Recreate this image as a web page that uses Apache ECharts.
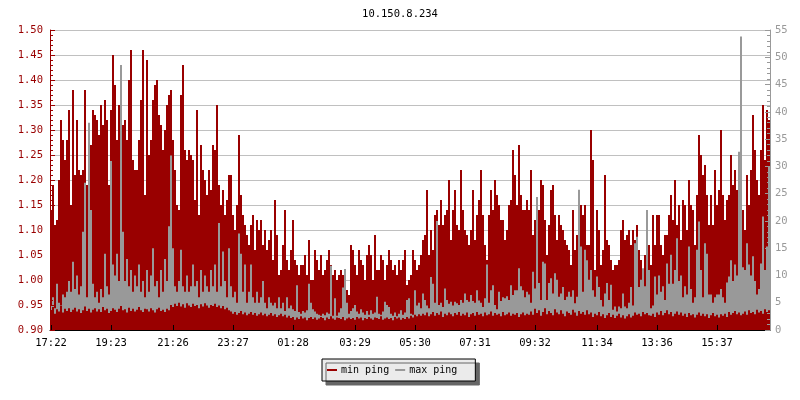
<!DOCTYPE html>
<html><head><meta charset="utf-8">
<script src="https://cdn.jsdelivr.net/npm/echarts@6/dist/echarts.min.js"></script>
<style>html,body{margin:0;padding:0;background:#fff}#c{width:800px;height:400px}</style>
</head><body><div id="c"></div>
<script>
const chartTitle = '10.150.8.234';
const tickLabels = ['17:22','19:23','21:26','23:27','01:28','03:29','05:30','07:31','09:32','11:34','13:36','15:37'];
const tickIndex = [0,30,61,91,121,152,182,212,242,273,303,333];

// min ping (left axis), one value per 2 px column
const minPing = [
1.14,1.19,1.11,1.12,1.20,1.32,1.28,1.24,1.28,1.34,1.15,1.38,1.21,1.32,1.22,1.21,1.22,1.38,1.19,1.25,
1.27,1.34,1.33,1.32,1.29,1.35,1.31,1.36,1.32,1.19,1.34,1.45,1.39,1.28,1.35,1.43,1.31,1.32,1.28,1.40,
1.46,1.24,1.22,1.22,1.28,1.36,1.46,1.17,1.44,1.25,1.28,1.36,1.39,1.40,1.33,1.31,1.26,1.30,1.35,1.37,
1.38,1.28,1.22,1.15,1.14,1.37,1.43,1.26,1.24,1.26,1.25,1.24,1.16,1.34,1.13,1.27,1.22,1.20,1.17,1.22,
1.18,1.27,1.26,1.35,1.19,1.15,1.18,1.13,1.16,1.21,1.21,1.13,1.10,1.15,1.29,1.17,1.13,1.11,1.09,1.07,
1.11,1.13,1.06,1.12,1.10,1.12,1.07,1.10,1.06,1.08,1.10,1.04,1.16,1.09,1.01,1.02,1.07,1.14,1.04,1.02,
1.06,1.12,1.04,1.03,1.01,1.03,1.03,1.05,1.01,1.08,1.00,1.00,1.06,1.04,1.02,1.05,1.01,1.02,1.04,1.06,
1.03,1.01,1.02,1.00,1.01,1.02,1.01,1.02,0.98,0.97,1.07,1.06,1.03,1.01,1.06,1.04,1.03,1.00,1.05,1.07,
1.05,1.00,1.09,1.02,1.02,1.05,1.04,1.00,1.03,1.06,1.04,1.02,1.03,1.01,1.04,1.02,1.04,1.06,0.99,1.00,
1.01,1.06,1.04,1.02,1.03,1.05,1.08,1.09,1.18,1.05,1.10,1.06,1.13,1.14,1.11,1.16,1.11,1.13,1.14,1.20,
1.08,1.14,1.18,1.11,1.10,1.22,1.14,1.10,1.09,1.07,1.10,1.18,1.08,1.13,1.16,1.22,1.13,1.07,1.04,1.13,
1.18,1.14,1.20,1.17,1.15,1.12,1.12,1.08,1.10,1.15,1.16,1.26,1.21,1.15,1.27,1.17,1.14,1.14,1.16,1.14,
1.22,1.09,1.12,1.16,1.14,1.20,1.19,1.12,1.05,1.11,1.18,1.19,1.13,1.08,1.13,1.11,1.10,1.08,1.07,1.06,
1.03,1.14,1.06,1.09,1.18,1.15,1.13,1.15,1.07,1.07,1.30,1.24,1.02,1.14,1.10,1.03,1.06,1.21,1.08,1.07,
1.04,1.02,1.03,1.03,1.04,1.10,1.12,1.08,1.09,1.10,1.07,1.10,1.08,1.11,1.06,1.04,1.02,1.05,1.04,1.07,
1.03,1.13,1.07,1.13,1.13,1.07,1.05,1.09,1.09,1.13,1.17,1.12,1.20,1.11,1.15,1.08,1.16,1.15,1.10,1.20,
1.15,1.14,1.07,1.17,1.29,1.25,1.21,1.23,1.17,1.11,1.17,1.11,1.22,1.15,1.18,1.30,1.17,1.12,1.16,1.17,
1.25,1.19,1.22,1.18,1.20,1.26,1.14,1.10,1.21,1.15,1.22,1.33,1.26,1.20,1.17,1.26,1.35,1.24,1.34,1.32
];

// max ping (right axis)
const maxPing = [
4.5,6,4,8.5,5,4.5,6.5,6,7,9,7,12.5,7.5,10,6.5,8,18,27,6,38,
22,8.5,6,7,5,7.5,6,14,8,6.5,31,12,10,14,9,48.6,18,9,13,8,
11,7,10,8,12,7,9,6,11,7,10,15,8,9,6,11,7,13,9,19,
32,15,8,7,9,14.7,8,7,10,7,8,12,8,9,6,11,7,10,8,7,
11,8,12,7,19.6,8,14.4,9,6,15,8,6,7,5,17.7,14,7,12,5,7,
12,6,5,7,5,6,9,5,4,6,5,4.5,5,4,6,4,5,3.5,6,4,
4.5,3.8,3.5,8.2,3.3,3.0,3.5,3.2,3.6,8.5,5.0,3.8,3.4,3.0,2.8,2.6,3.0,2.7,3.2,3.0,
11.8,2.6,5.8,2.6,3.2,4.0,7.8,11.2,5.0,3.0,3.5,4.0,4.6,3.4,3.0,3.8,3.2,2.8,3.5,2.8,
3.6,3.0,3.2,6.1,3.0,2.8,3.4,5.2,4.6,4.2,3.0,2.6,3.2,2.5,3.0,3.6,2.8,3.2,5.5,5.8,
3.0,2.8,7.3,4.5,5.0,4.0,6.7,5.5,4.5,4.0,9.7,8.5,5.0,20.0,4.6,5.0,4.2,7.6,5.5,4.8,
5.2,4.5,5.2,4.9,4.6,5.5,5.0,6.7,5.5,5.2,6.4,5.3,5.0,7.3,5.4,5.0,4.2,5.8,12.0,5.0,
7.3,8.2,4.6,3.8,7.0,5.3,6.0,5.8,6.2,5.5,8.2,6.4,7.3,7.3,11.3,8.0,7.3,6.0,7.0,6.5,
5.0,10.7,7.6,24.4,8.6,5.5,12.5,12.2,5.5,8.6,9.5,6.7,10.4,9.2,6.1,6.7,7.9,5.5,6.1,7.0,
6.1,7.3,4.9,6.1,25.7,15.3,7.0,14.7,12.8,9.2,11.0,7.3,6.1,9.8,7.9,5.5,4.3,6.7,8.6,5.5,
8.3,3.7,4.3,3.4,4.3,4.0,6.7,4.3,4.0,5.0,7.9,4.5,15.9,17.1,7.9,9.2,11.3,8.0,22.0,11.0,
4.0,4.5,9.8,6.5,10.0,7.0,8.0,5.5,12.2,8.5,13.8,8.5,11.0,16.8,9.0,10.0,6.0,8.0,6.5,15.3,
7.5,5.0,6.0,14.7,19.9,11.0,6.0,15.9,14.0,6.5,6.5,5.0,6.0,6.5,6.5,7.5,6.0,5.0,8.7,9.8,
12.8,9.0,12.0,10.0,32.7,53.8,11.5,11.0,15.9,12.0,10.0,13.5,9.0,6.5,7.5,12.2,20.8,11.0,15.3,30.0
];

// dark red floor drawn over the grey (right axis)
const floorBand = [
3.6,4.2,3.0,3.8,3.4,4.4,3.2,3.9,3.5,4.0,3.3,3.7,4.1,3.4,3.8,3.1,3.6,4.3,3.5,3.9,
3.2,3.7,4.0,3.4,3.8,3.3,4.2,3.6,3.9,3.1,3.5,4.0,3.7,3.3,3.9,4.4,3.6,3.8,3.2,4.1,
3.5,3.9,3.4,3.7,4.2,3.6,3.3,3.9,3.8,3.4,4.0,3.6,3.2,3.8,4.1,3.5,3.7,3.3,3.9,3.6,
4.6,4.2,4.8,4.4,5.0,4.3,4.7,4.1,4.9,4.5,4.2,4.8,4.4,4.6,4.0,4.7,4.3,4.9,4.5,4.1,
4.6,4.4,4.8,4.2,4.5,4.0,4.4,3.8,4.1,3.6,3.4,3.0,3.3,2.8,3.1,3.5,2.9,3.2,2.7,3.0,
3.3,2.8,3.1,2.6,2.9,3.2,2.7,3.0,2.5,2.8,3.1,2.6,2.9,2.4,2.7,3.0,2.5,2.8,2.3,2.6,
2.2,2.4,1.9,2.3,2.0,2.5,2.1,2.3,1.8,2.2,2.4,2.0,2.3,1.9,2.1,2.4,2.2,1.8,2.3,2.0,
2.5,2.1,1.9,2.3,2.2,2.0,2.4,1.8,2.1,2.3,2.0,2.2,1.9,2.4,2.1,2.3,1.8,2.2,2.0,2.4,
2.1,1.9,2.3,2.2,2.0,2.5,1.9,2.1,2.3,2.0,2.2,1.8,2.4,2.1,2.3,1.9,2.2,2.0,2.4,2.1,
2.6,2.3,2.8,2.5,2.9,2.6,3.0,2.7,3.2,2.5,2.9,3.3,2.6,3.1,2.8,3.4,2.4,3.0,2.7,3.2,
2.9,2.5,3.1,2.8,3.3,2.6,3.0,2.7,3.2,2.4,2.9,3.1,2.6,3.3,2.8,3.0,2.5,3.2,2.7,2.9,
3.4,2.6,3.1,2.8,3.0,2.5,3.3,2.7,2.9,3.2,2.6,3.0,2.8,3.1,2.4,2.9,3.2,2.7,3.0,2.8,
3.4,2.8,3.9,3.1,3.6,2.6,3.3,4.0,2.9,3.5,3.1,2.7,3.8,3.2,2.9,3.6,3.0,2.5,3.4,3.1,
2.8,3.7,3.2,2.6,3.5,3.0,3.3,2.8,3.6,2.9,3.2,2.4,3.0,2.7,3.3,2.5,2.9,2.2,2.7,3.1,
2.4,2.8,2.2,2.6,3.0,2.3,2.7,2.1,2.5,2.9,2.3,2.6,3.2,2.8,3.0,2.5,3.3,2.9,3.1,2.7,
2.6,3.0,2.4,3.2,2.8,3.5,2.7,3.1,3.6,2.9,3.3,2.5,3.0,3.4,2.8,3.2,2.6,3.0,2.4,3.1,
2.7,2.9,2.3,2.8,3.2,2.6,3.0,2.5,2.9,2.2,2.7,3.1,2.5,2.8,2.3,2.9,2.6,3.0,2.4,3.3,
2.8,3.1,3.5,2.9,3.2,2.7,3.0,3.4,2.8,3.6,3.1,3.3,2.9,3.7,3.2,3.5,3.0,3.8,3.3,3.6
];

const categories = minPing.map((_, i) => {
  const k = tickIndex.indexOf(i);
  return k >= 0 ? tickLabels[k] : '';
});
const isTick = (idx) => tickIndex.indexOf(idx) >= 0;

const FONT = 'DejaVu Sans Mono';
const RED = '#990000';
const GREY = '#999999';

const chart = echarts.init(document.getElementById('c'), null, {renderer: 'canvas'});
chart.setOption({
  animation: false,
  backgroundColor: '#ffffff',
  title: {
    text: chartTitle, left: 'center', top: 4,
    textStyle: {fontFamily: FONT, fontSize: 10.5, fontWeight: 'normal', color: '#000'}
  },
  legend: {
    data: ['min ping', 'max ping'],
    left: 322, top: 359,
    orient: 'horizontal',
    icon: 'rect', itemWidth: 10, itemHeight: 2, itemGap: 6,
    padding: [6, 18, 6, 5],
    backgroundColor: '#ebebeb', borderColor: '#000', borderWidth: 1, borderRadius: 0,
    shadowColor: '#666666', shadowBlur: 0.01, shadowOffsetX: 4, shadowOffsetY: 4,
    textStyle: {fontFamily: FONT, fontSize: 10, color: '#000', padding: [0, 0, 0, -1]},
    selectedMode: false
  },
  grid: {left: 50, right: 30, top: 30, bottom: 70, containLabel: false},
  xAxis: {
    type: 'category', data: categories, boundaryGap: true, z: 10,
    axisLine: {show: true, lineStyle: {color: '#000', width: 1}},
    axisTick: {show: true, inside: true, length: 5, alignWithLabel: true, interval: isTick, lineStyle: {color: '#000'}},
    axisLabel: {interval: isTick, color: '#000', fontFamily: FONT, fontSize: 10.5, margin: 8, hideOverlap: false},
    splitLine: {show: false}
  },
  yAxis: [
    {
      type: 'value', position: 'left', min: 0.9, max: 1.5, interval: 0.05, z: 10,
      axisLine: {show: true, lineStyle: {color: RED}},
      axisTick: {show: true, inside: true, length: 5, lineStyle: {color: RED}},
      minorTick: {show: true, splitNumber: 5, length: 3, lineStyle: {color: RED}},
      axisLabel: {formatter: v => v.toFixed(2), color: RED, fontFamily: FONT, fontSize: 10.5, margin: 7},
      splitLine: {show: false}
    },
    {
      type: 'value', position: 'right', min: 0, max: 55, interval: 5, z: 10,
      axisLine: {show: true, lineStyle: {color: GREY}},
      axisTick: {show: true, inside: true, length: 5, lineStyle: {color: GREY}},
      minorTick: {show: true, splitNumber: 5, length: 3, lineStyle: {color: GREY}},
      axisLabel: {color: GREY, fontFamily: FONT, fontSize: 10.5, margin: 5},
      splitLine: {show: false}
    },
    {
      type: 'value', position: 'left', min: 0.9, max: 1.5, interval: 0.05, z: 0,
      axisLine: {show: false}, axisTick: {show: false}, axisLabel: {show: false},
      splitLine: {show: true, lineStyle: {color: '#c0c0c0', width: 1}}
    }
  ],
  series: [
    {name: 'min ping', type: 'bar', data: minPing, yAxisIndex: 0, barCategoryGap: '0%', barGap: '-100%',
     itemStyle: {color: RED}, silent: true, z: 2, clip: true},
    {name: 'max ping', type: 'bar', data: maxPing, yAxisIndex: 1, barCategoryGap: '0%', barGap: '-100%',
     itemStyle: {color: GREY}, silent: true, z: 3, clip: true},
    {name: 'floor', type: 'bar', data: floorBand, yAxisIndex: 1, barCategoryGap: '0%', barGap: '-100%',
     itemStyle: {color: RED}, silent: true, z: 4, clip: true}
  ]
});
</script>
</body></html>
